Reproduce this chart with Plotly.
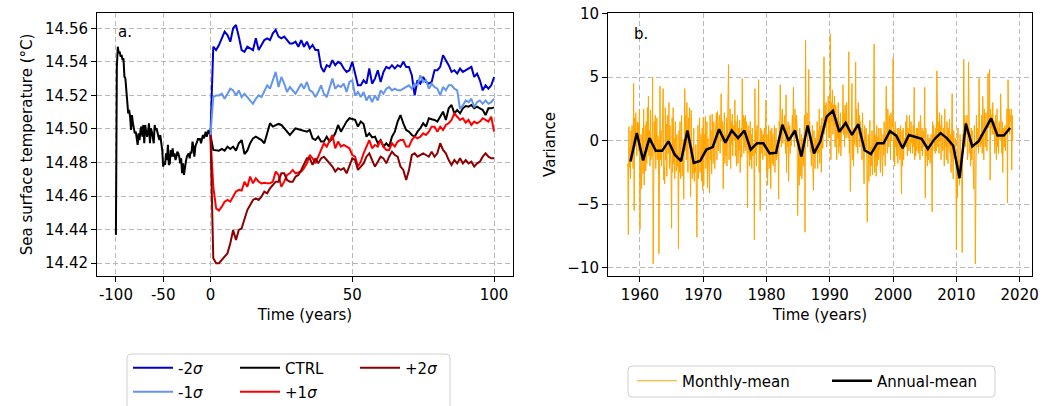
import plotly.graph_objects as go

# ---------------- Panel a data ----------------
SPIN_SCALE = 3.0  # spin-up years are drawn compressed (1/3 scale) on the axis
spin_years = list(range(-100, 0))
spin_ctrl = [
    14.4369, 14.5371, 14.5490, 14.5451, 14.5461, 14.5431, 14.5441, 14.5411, 14.5421, 14.5312,
    14.5302, 14.5212, 14.5123, 14.5093, 14.5113, 14.5073, 14.4994, 14.5083, 14.5034, 14.4994,
    14.4974, 14.4984, 14.4954, 14.4905, 14.4974, 14.4934, 14.4994, 14.5014, 14.4954, 14.5024,
    14.4915, 14.5024, 14.4984, 14.4954, 14.4984, 14.5034, 14.4915, 14.5004, 14.4984, 14.4954,
    14.4915, 14.5024, 14.4994, 14.5004, 14.4964, 14.4954, 14.4934, 14.4964, 14.4915, 14.4875,
    14.4776, 14.4805, 14.4786, 14.4855, 14.4815, 14.4905, 14.4786, 14.4795, 14.4875, 14.4835,
    14.4885, 14.4835, 14.4855, 14.4815, 14.4835, 14.4865, 14.4855, 14.4835, 14.4795, 14.4825,
    14.4736, 14.4795, 14.4726, 14.4776, 14.4805, 14.4835, 14.4845, 14.4855, 14.4825, 14.4865,
    14.4855, 14.4925, 14.4895, 14.4835, 14.4895, 14.4915, 14.4925, 14.4944, 14.4934, 14.4944,
    14.4915, 14.4954, 14.4964, 14.4944, 14.4974, 14.4984, 14.4954, 14.4974, 14.4994, 14.4974,
]
run_years = list(range(0, 101))
ctrl = [
    14.4964,
    14.4875, 14.4875, 14.4871, 14.4881, 14.4871, 14.4895, 14.4881, 14.4895, 14.4871, 14.4915,
    14.4934, 14.4851, 14.4871, 14.4915, 14.4944, 14.4954, 14.4944, 14.4934, 14.4915, 14.4974,
    14.5034, 14.5014, 14.5024, 14.5030, 14.5024, 14.5004, 14.4984, 14.4964, 14.4984, 14.5004,
    14.4998, 14.4994, 14.4990, 14.4984, 14.4994, 14.4944, 14.4934, 14.4954, 14.4925, 14.4925,
    14.4954, 14.4925, 14.4944, 14.4974, 14.5024, 14.4984, 14.5014, 14.5044, 14.5064, 14.5058,
    14.5054, 14.5014, 14.5044, 14.5030, 14.4954, 14.4974, 14.4950, 14.4954, 14.4915, 14.4934,
    14.4895, 14.4915, 14.4895, 14.4954, 14.4984, 14.5044, 14.5083, 14.5034, 14.4994, 14.4984,
    14.4964, 14.4954, 14.4984, 14.5004, 14.5034, 14.5014, 14.5064, 14.5058, 14.5054, 14.5044,
    14.5073, 14.5103, 14.5054, 14.5123, 14.5143, 14.5093, 14.5113, 14.5093, 14.5123, 14.5137,
    14.5133, 14.5143, 14.5123, 14.5133, 14.5123, 14.5113, 14.5083, 14.5123, 14.5123, 14.5129,
]
minus2 = [
    14.4964,
    14.549, 14.547, 14.550, 14.554, 14.558, 14.556, 14.552, 14.560, 14.562, 14.555,
    14.547, 14.546, 14.549, 14.548, 14.547, 14.554, 14.547, 14.550, 14.553, 14.554,
    14.553, 14.557, 14.559, 14.555, 14.554, 14.555, 14.553, 14.551, 14.551, 14.552,
    14.549, 14.553, 14.549, 14.552, 14.548, 14.550, 14.547, 14.547, 14.537, 14.534,
    14.538, 14.537, 14.541, 14.538, 14.540, 14.539, 14.536, 14.534, 14.535, 14.540,
    14.533, 14.526, 14.526, 14.529, 14.527, 14.536, 14.527, 14.530, 14.535, 14.528,
    14.534, 14.537, 14.536, 14.538, 14.536, 14.538, 14.537, 14.540, 14.537, 14.537,
    14.532, 14.520, 14.529, 14.527, 14.531, 14.528, 14.527, 14.528, 14.535, 14.535,
    14.537, 14.544, 14.541, 14.538, 14.534, 14.535, 14.533, 14.536, 14.534, 14.535,
    14.536, 14.537, 14.531, 14.533, 14.529, 14.523, 14.526, 14.524, 14.526, 14.531,
]
minus1 = [
    14.4964,
    14.519, 14.520, 14.520, 14.521, 14.518, 14.521, 14.524, 14.523, 14.520, 14.523,
    14.519, 14.521, 14.519, 14.517, 14.515, 14.518, 14.520, 14.519, 14.523, 14.526,
    14.524, 14.529, 14.534, 14.525, 14.531, 14.527, 14.522, 14.525, 14.523, 14.521,
    14.524, 14.527, 14.524, 14.528, 14.523, 14.522, 14.519, 14.522, 14.526, 14.521,
    14.519, 14.525, 14.530, 14.524, 14.526, 14.525, 14.527, 14.522, 14.528, 14.529,
    14.520, 14.522, 14.519, 14.522, 14.517, 14.520, 14.516, 14.520, 14.517, 14.523,
    14.521, 14.524, 14.525, 14.523, 14.524, 14.523, 14.523, 14.524, 14.525, 14.526,
    14.524, 14.527, 14.526, 14.532, 14.528, 14.529, 14.524, 14.527, 14.525, 14.524,
    14.520, 14.525, 14.523, 14.526, 14.526, 14.524, 14.523, 14.512, 14.514, 14.517,
    14.516, 14.518, 14.513, 14.516, 14.517, 14.515, 14.517, 14.515, 14.516, 14.518,
]
plus1 = [
    14.4964,
    14.4656, 14.4527, 14.4514, 14.4537, 14.4567, 14.4577, 14.4567, 14.4597, 14.4627, 14.4637,
    14.4633, 14.4686, 14.4656, 14.4716, 14.4676, 14.4706, 14.4686, 14.4676, 14.4680, 14.4676,
    14.4676, 14.4686, 14.4746, 14.4726, 14.4656, 14.4686, 14.4726, 14.4736, 14.4756, 14.4736,
    14.4740, 14.4746, 14.4766, 14.4795, 14.4845, 14.4825, 14.4795, 14.4835, 14.4885, 14.4915,
    14.4895, 14.4934, 14.4964, 14.4885, 14.4925, 14.4895, 14.4905, 14.4895, 14.4885, 14.4845,
    14.4835, 14.4776, 14.4805, 14.4855, 14.4895, 14.4934, 14.4885, 14.4905, 14.4895, 14.4934,
    14.4895, 14.4875, 14.4875, 14.4915, 14.4895, 14.4925, 14.4934, 14.4934, 14.4895, 14.4895,
    14.4934, 14.4954, 14.4944, 14.4954, 14.4974, 14.4964, 14.4984, 14.5014, 14.5014, 14.4984,
    14.5014, 14.4994, 14.5024, 14.5034, 14.5054, 14.5093, 14.5073, 14.5054, 14.5064, 14.5038,
    14.5054, 14.5024, 14.5044, 14.5034, 14.5044, 14.5064, 14.5054, 14.5044, 14.5073, 14.4984,
]
plus2 = [
    14.4964,
    14.4230, 14.4200, 14.4200, 14.4220, 14.4239, 14.4259, 14.4319, 14.4398, 14.4339, 14.4398,
    14.4408, 14.4458, 14.4517, 14.4547, 14.4577, 14.4587, 14.4577, 14.4597, 14.4627, 14.4617,
    14.4647, 14.4666, 14.4686, 14.4686, 14.4736, 14.4736, 14.4696, 14.4686, 14.4686, 14.4716,
    14.4726, 14.4756, 14.4786, 14.4825, 14.4825, 14.4786, 14.4825, 14.4795, 14.4825, 14.4835,
    14.4815, 14.4795, 14.4776, 14.4746, 14.4766, 14.4756, 14.4766, 14.4736, 14.4786, 14.4825,
    14.4815, 14.4756, 14.4776, 14.4795, 14.4835, 14.4855, 14.4815, 14.4776, 14.4805, 14.4835,
    14.4825, 14.4795, 14.4835, 14.4865, 14.4845, 14.4835, 14.4776, 14.4756, 14.4696, 14.4756,
    14.4845, 14.4855, 14.4835, 14.4845, 14.4855, 14.4845, 14.4835, 14.4865, 14.4835, 14.4855,
    14.4915, 14.4875, 14.4855, 14.4815, 14.4786, 14.4815, 14.4795, 14.4825, 14.4795, 14.4815,
    14.4795, 14.4805, 14.4776, 14.4795, 14.4805, 14.4835, 14.4855, 14.4835, 14.4825, 14.4825,
]
a_xticks = [-100, -50, 0, 50, 100]
a_xticklabels = ["-100", "-50", "0", "50", "100"]
a_yticks = [14.42, 14.44, 14.46, 14.48, 14.50, 14.52, 14.54, 14.56]

# ---------------- Panel b data ----------------
first_year = 1958
monthly_by_year = [
    [-1.8, -2.0, -7.4, 1.1, -2.1, -0.5, -3.0, 0.8, -1.5, 1.2, -2.2, -2.2],
    [4.5, -5.5, 1.8, -0.5, 2.2, 1.0, -1.2, 1.5, 0.3, 1.4, -0.8, 2.5],
    [-7.0, -2.5, 0.5, -3.8, -1.2, 1.0, -2.6, 2.5, -3.5, -0.8, 1.2, -2.4],
    [1.5, -1.8, 2.6, -0.9, 3.5, -1.2, 0.8, -2.0, 2.4, -1.5, 0.2, -1.2],
    [5.0, -9.7, -6.3, 1.5, -1.0, 2.0, -2.2, 0.5, 1.8, -1.5, 0.4, -0.1],
    [-8.9, 1.0, 4.3, -1.5, 0.8, -2.0, -0.5, 1.6, 4.1, -3.1, -2.0, -3.4],
    [2.6, -1.5, 1.3, -2.8, 2.0, 0.5, -1.0, 3.0, -2.2, 1.2, -1.5, -2.2],
    [-6.9, 1.8, -2.5, 2.6, -1.8, 0.2, -3.0, 1.5, -1.2, -2.4, 0.5, -2.0],
    [-1.0, -8.5, 0.8, -2.5, 1.5, -3.0, -0.2, 2.0, -2.8, -1.0, 0.1, -4.6],
    [1.5, 4.1, -0.8, 2.0, -1.5, 3.0, 0.5, -2.5, 1.8, 0.4, 2.6, -1.5],
    [-4.4, 2.4, -2.2, -3.0, -0.5, -2.6, 1.0, -3.2, -1.8, -2.5, -0.3, -3.9],
    [-7.6, -2.0, 1.2, -3.0, -0.5, 1.8, -2.5, -1.0, 0.5, -3.2, 1.0, -3.9],
    [1.8, -3.5, 0.5, -1.0, 1.9, -2.2, -0.8, 1.5, -3.7, 0.2, -1.5, -1.6],
    [-4.1, 2.0, -1.5, 0.8, -2.6, 2.1, -0.5, -1.8, 1.5, -0.2, -2.2, 0.5],
    [1.2, 2.2, -1.5, 2.3, 0.4, -0.8, 1.8, 2.0, -1.0, 0.5, 3.7, 0.0],
    [1.5, -0.6, -3.8, 1.0, 2.2, -1.8, 0.5, -1.2, 1.8, -2.0, 0.8, -0.2],
    [6.0, -1.5, 1.0, 2.5, -2.2, 1.5, -0.3, 2.1, -1.2, 1.2, 0.5, 0.0],
    [3.2, -1.2, 1.5, -2.0, 0.5, 2.0, -1.8, 1.0, -0.8, 1.6, -2.5, 0.9],
    [1.0, -1.3, 4.9, 0.2, 2.0, -1.0, 1.8, -0.5, 2.0, -0.8, 1.5, -0.2],
    [-5.3, 1.2, -1.0, 0.8, -2.0, 1.5, -1.5, 0.5, -2.2, 1.0, -1.2, -0.2],
    [-0.5, -7.8, 4.1, -1.0, 0.8, -2.0, 1.2, -0.5, 1.0, 4.8, -2.5, 0.0],
    [-5.5, 1.0, -1.0, 0.8, 0.2, -1.5, 0.5, -0.5, 1.0, -1.2, 0.6, 3.2],
    [-2.5, 0.5, -3.5, -1.0, 1.2, -2.2, -0.5, 0.8, -3.8, -0.2, 1.0, -1.8],
    [0.5, -2.0, -0.8, 1.2, -2.5, -0.2, 1.0, -1.5, -0.5, -1.2, -0.8, -4.6],
    [1.5, 0.2, 4.4, 2.0, -0.5, 1.8, 2.5, -0.2, 1.2, 0.8, 2.0, -0.7],
    [-1.0, 3.6, -2.5, 1.0, -0.5, 1.5, -3.2, 0.8, 1.2, -1.0, 0.5, -0.4],
    [1.5, 2.0, 0.5, 4.2, 0.3, -0.5, 2.5, 1.8, 0.2, 2.0, 1.0, -5.9],
    [-2.0, -0.5, -3.5, 1.0, -2.8, -1.0, 0.5, -3.0, -1.5, 0.2, -2.0, -0.4],
    [2.0, -7.2, 7.9, 1.5, 0.5, 2.2, -0.5, 1.0, 5.6, 0.8, 1.5, -0.9],
    [0.5, -2.0, -1.0, 1.2, -2.5, -3.9, 0.8, -1.5, -2.2, 0.2, -1.0, -0.6],
    [1.5, -2.2, 0.8, -1.0, 2.5, -1.8, 0.2, 1.2, -2.5, 1.8, -0.5, -0.6],
    [1.5, 6.6, 0.5, 2.8, 1.0, 3.0, -0.5, 2.2, 1.5, 3.5, 0.2, 0.5],
    [2.5, 8.4, -1.5, 3.0, 1.5, 4.0, 0.5, 2.8, 1.2, 3.5, -0.5, 2.8],
    [2.5, -1.5, 1.8, 0.2, 3.0, -1.0, 1.5, -0.5, 2.2, -1.2, 0.8, 0.6],
    [1.0, 4.4, 0.5, 2.2, -0.5, 2.8, 1.0, 0.2, 3.0, 0.5, 1.5, 0.2],
    [7.0, -1.0, 0.5, -4.0, 1.2, -0.8, 4.5, -1.5, 0.8, -2.0, 1.0, -0.3],
    [1.0, 6.2, -0.5, 2.5, 1.0, -1.0, 3.0, 0.5, 2.0, -0.5, 1.5, -0.1],
    [1.0, -1.5, 2.2, -0.5, -1.0, -3.4, 1.2, -0.8, 0.5, 1.0, -1.3, -6.4],
    [-2.5, 0.5, -3.2, -1.0, 1.6, -2.8, -0.5, -2.0, 0.8, -2.7, -0.2, -0.6],
    [7.6, -2.5, 0.5, -1.8, -2.8, 1.2, -2.0, 0.3, -1.5, 1.0, -1.2, -1.2],
    [-2.5, 1.0, -0.5, -0.7, -2.8, 0.5, -1.2, 1.5, -0.8, -2.0, 0.8, 4.3],
    [1.0, -1.0, 2.5, 0.5, -0.5, 2.0, 1.2, -1.5, 2.2, 0.0, 1.5, 1.1],
    [6.5, -1.5, 0.8, -2.0, 1.5, -0.5, 0.5, -1.2, 1.0, -1.8, 0.5, 1.0],
    [0.5, -1.5, 1.2, -0.8, -4.2, 0.8, -2.0, 1.0, -1.5, 0.2, -0.5, -0.4],
    [1.5, -0.5, 2.0, -1.2, 1.0, 0.5, -0.8, 2.0, 0.2, -1.0, 1.5, -0.2],
    [0.5, -1.0, 1.2, -0.5, 4.2, -1.5, 0.5, -1.2, 1.0, -0.8, 1.0, -0.2],
    [-1.0, 1.5, 0.2, -1.5, 2.0, 0.5, -0.8, 1.0, -1.2, 0.8, -0.5, 0.8],
    [4.2, -4.5, 1.0, -1.2, -0.5, -2.0, 0.5, -1.5, -0.8, 0.2, -1.8, -1.4],
    [0.5, -1.0, -5.6, 1.5, 0.2, 1.2, -0.8, 0.5, -1.0, 1.0, -0.8, 5.5],
    [3.0, -0.5, 1.5, -1.0, 2.2, 0.0, 1.2, -1.5, 2.0, 0.5, -0.8, 0.6],
    [1.0, -2.0, 2.5, -0.5, 0.2, -1.5, 1.5, 0.8, -1.8, 1.0, -0.5, 1.7],
    [-1.0, 0.5, -2.5, 0.2, 3.7, -1.5, -3.0, 0.8, -1.2, -0.5, 0.2, -0.5],
    [-8.6, -2.0, -4.5, 1.0, -3.0, -1.5, -3.5, 0.5, -2.0, -1.0, -2.0, -8.8],
    [0.5, -1.0, 6.4, 1.0, 2.0, -0.5, 1.5, 0.5, 2.0, -1.5, -1.1, 6.2],
    [1.5, -1.0, 0.5, -2.0, 1.0, -1.5, 0.8, -0.5, -1.0, -3.8, 1.2, -0.6],
    [-9.7, 1.5, 2.0, -0.5, 1.0, 0.5, -1.0, 4.9, 1.0, -0.5, 0.5, -0.3],
    [2.0, -1.0, 3.5, 0.5, -1.5, 2.5, 1.0, -0.5, 2.2, 0.5, -0.8, 1.2],
    [5.3, 1.0, 2.0, 5.6, -3.1, 2.5, 1.0, 2.0, 0.5, 3.0, 0.5, 0.7],
    [1.5, -1.0, 2.0, 0.5, -1.5, 2.5, -0.5, 1.0, -1.0, 1.5, 0.2, 0.1],
    [3.7, 0.5, -1.0, 1.5, -2.5, 1.0, 0.2, -0.5, 1.2, -0.8, 1.0, 0.5],
    [2.5, -4.9, 4.8, 1.0, 2.5, 0.5, 2.0, 1.5, 2.5, -2.3, 2.0, 0.0],
]
annual_mean = [
    -1.63, 0.6, -1.55, 0.2, -0.8, -0.8, -0.05, -1.1, -1.6, 0.8,
    -1.75, -1.6, -0.7, -0.5, 0.9, -0.15, 0.8, 0.2, 0.8, -0.7,
    -0.2, -0.2, -1.0, -0.95, 1.25, 0.0, 0.8, -1.25, 1.2, -1.0,
    -0.05, 1.9, 2.35, 0.7, 1.4, 0.45, 1.3, -0.75, -1.05, -0.2,
    -0.2, 0.75, 0.4, -0.6, 0.45, 0.3, 0.15, -0.65, 0.1, 0.6,
    0.2, -0.4, -2.95, 1.35, -0.45, -0.05, 0.8, 1.75, 0.4, 0.4,
    1.0,
]
b_xticks = [1960, 1970, 1980, 1990, 2000, 2010, 2020]
b_yticks = [-10, -5, 0, 5, 10]

# ---------------- derived coordinates ----------------
def axis_pos(t):
    return t / SPIN_SCALE if t < 0 else t

ctrl_x = [axis_pos(t) for t in spin_years] + [axis_pos(t) for t in run_years]
ctrl_y = spin_ctrl + ctrl
run_x = [axis_pos(t) for t in run_years]

monthly_x, monthly_y = [], []
for i, row in enumerate(monthly_by_year):
    for m, v in enumerate(row):
        monthly_x.append(first_year + i + m / 12.0)
        monthly_y.append(v)
annual_x = [first_year + i + 0.5 for i in range(len(annual_mean))]

FONT = "DejaVu Sans"
FS = 15
GRID = "#b8b8b8"

fig = go.Figure()
fig.add_trace(go.Scatter(x=ctrl_x, y=ctrl_y, mode="lines", name="CTRL",
                         line=dict(color="black", width=2), legend="legend3"))
fig.add_trace(go.Scatter(x=run_x, y=minus2, mode="lines", name="-2<i>σ</i>",
                         line=dict(color="#0000cd", width=2), legend="legend"))
fig.add_trace(go.Scatter(x=run_x, y=minus1, mode="lines", name="-1<i>σ</i>",
                         line=dict(color="#6495ed", width=2), legend="legend2"))
fig.add_trace(go.Scatter(x=run_x, y=plus1, mode="lines", name="+1<i>σ</i>",
                         line=dict(color="#ff0000", width=2), legend="legend4"))
fig.add_trace(go.Scatter(x=run_x, y=plus2, mode="lines", name="+2<i>σ</i>",
                         line=dict(color="#8b0000", width=2), legend="legend5"))

fig.add_trace(go.Scatter(x=monthly_x, y=monthly_y, mode="lines", name="Monthly-mean",
                         line=dict(color="#ffa500", width=1), xaxis="x2", yaxis="y2",
                         legend="legend6"))
fig.add_trace(go.Scatter(x=annual_x, y=annual_mean, mode="lines", name="Annual-mean",
                         line=dict(color="black", width=2.5), xaxis="x2", yaxis="y2",
                         legend="legend6"))

# page geometry (body margin is removed in the page, so figure starts at 0,0)
W, H = 1052, 406
L, T = 97, 13
R = W - 1032
B = H - 276
PW = W - L - R
PH = H - T - B

def px_x(p):
    return (p - L) / PW

def px_y(p):
    return (H - B - p) / PH

axis_common = dict(showline=True, mirror=True, linecolor="black", linewidth=1,
                   ticks="outside", ticklen=5, tickcolor="black", tickwidth=1,
                   showgrid=True, gridcolor=GRID, griddash="5px,3px", gridwidth=1,
                   zeroline=False, automargin=False, ticklabeloverflow="allow",
                   tickfont=dict(size=FS, color="black", family=FONT))

fig.update_layout(
    width=W, height=H,
    margin=dict(l=L, r=R, t=T, b=B, autoexpand=False),
    plot_bgcolor="white", paper_bgcolor="white",
    font=dict(family=FONT, size=FS, color="black"),
    xaxis=dict(domain=[0, px_x(513)], range=[-40, 106.67],
               tickvals=[axis_pos(t) for t in a_xticks], ticktext=a_xticklabels,
               title=dict(text="Time (years)", font=dict(size=FS), standoff=6),
               **axis_common),
    yaxis=dict(domain=[0, 1], range=[14.4124, 14.5691], tickvals=a_yticks,
               tickformat=".2f",
               title=dict(text="Sea surface temperature (°C)", font=dict(size=FS), standoff=8),
               **axis_common),
    xaxis2=dict(domain=[px_x(608), 1], range=[1954.95, 2021.95], tickvals=b_xticks,
                anchor="y2",
                title=dict(text="Time (years)", font=dict(size=FS), standoff=6),
                **axis_common),
    yaxis2=dict(domain=[0, 1], range=[-10.65, 10.05], tickvals=b_yticks, anchor="x2",
                title=dict(text="Variance", font=dict(size=FS), standoff=8),
                **axis_common),
    showlegend=True,
)

leg_common = dict(bgcolor="rgba(0,0,0,0)", borderwidth=0, font=dict(size=FS, family=FONT),
                  xanchor="left", yanchor="middle", orientation="v", itemwidth=40)
fig.update_layout(
    legend=dict(x=px_x(128), y=px_y(368), **leg_common),
    legend2=dict(x=px_x(128), y=px_y(392), **leg_common),
    legend3=dict(x=px_x(235), y=px_y(368), **leg_common),
    legend4=dict(x=px_x(235), y=px_y(392), **leg_common),
    legend5=dict(x=px_x(355), y=px_y(368), **leg_common),
    legend6=dict(x=px_x(632), y=px_y(381), bgcolor="rgba(0,0,0,0)", borderwidth=0,
                 font=dict(size=FS, family=FONT), xanchor="left", yanchor="middle",
                 orientation="h", entrywidth=140, entrywidthmode="pixels", itemwidth=40),
)

def rounded_box(x0p, x1p, y0p, y1p, r=4):
    x0, x1 = px_x(x0p), px_x(x1p)
    ya, yb = px_y(y0p), px_y(y1p)
    rx, ry = r / PW, r / PH
    return (f"M {x0+rx},{ya} L {x1-rx},{ya} Q {x1},{ya} {x1},{ya-ry} "
            f"L {x1},{yb+ry} Q {x1},{yb} {x1-rx},{yb} L {x0+rx},{yb} "
            f"Q {x0},{yb} {x0},{yb+ry} L {x0},{ya-ry} Q {x0},{ya} {x0+rx},{ya} Z")

fig.add_shape(type="path", xref="paper", yref="paper",
              path=rounded_box(127, 450, 354, 420), line=dict(color="#d0d0d0", width=1),
              fillcolor="rgba(255,255,255,0.8)", layer="below")
fig.add_shape(type="path", xref="paper", yref="paper",
              path=rounded_box(628, 995, 366, 397), line=dict(color="#d0d0d0", width=1),
              fillcolor="rgba(255,255,255,0.8)", layer="below")

fig.add_annotation(x=axis_pos(-100), y=14.5578, xref="x", yref="y", text="a.",
                   showarrow=False, xanchor="left", yanchor="middle",
                   font=dict(size=FS, family=FONT, color="black"))
fig.add_annotation(x=1958.7, y=8.43, xref="x2", yref="y2", text="b.",
                   showarrow=False, xanchor="left", yanchor="middle",
                   font=dict(size=FS, family=FONT, color="black"))

fig.write_html("out.html",
               config={"displayModeBar": False},
               post_script="document.body.style.margin='0';document.body.style.overflow='hidden';")
